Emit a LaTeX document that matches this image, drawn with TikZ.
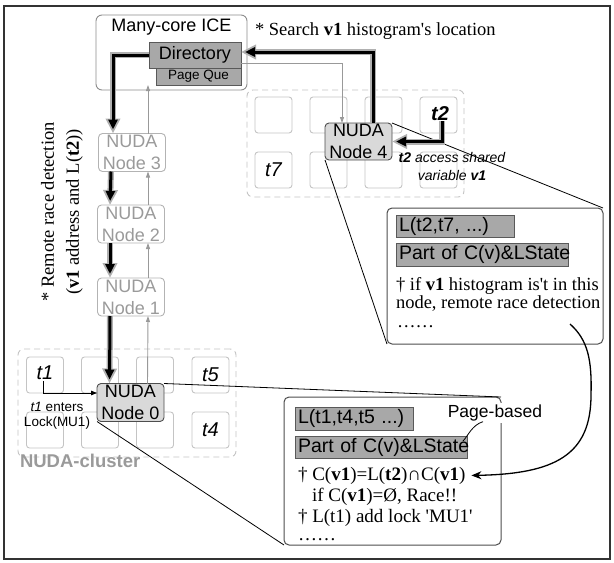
\documentclass[tikz,border=0pt]{standalone}
\usepackage{fontspec}
\newfontfamily\tnr{Liberation Serif}
\newfontfamily\arial{Liberation Sans}
\usetikzlibrary{arrows.meta,calc}

\definecolor{framecol}{HTML}{333333}
\definecolor{iceline}{HTML}{8C8C8C}
\definecolor{dirfill}{HTML}{A8A8A8}
\definecolor{dirline}{HTML}{595959}
\definecolor{nodefill}{HTML}{D9D9D9}
\definecolor{nodeline}{HTML}{4D4D4D}
\definecolor{faintline}{HTML}{B3B3B3}
\definecolor{fainttext}{HTML}{9A9A9A}
\definecolor{cellline}{HTML}{C4C4C4}
\definecolor{halogray}{HTML}{B0B0B0}
\definecolor{thingray}{HTML}{999999}

\newcommand\mysf[2]{\arial\fontsize{#1}{#2}\selectfont}
\newcommand\myrm[2]{\tnr\fontsize{#1}{#2}\selectfont}

\begin{document}
\begin{tikzpicture}[x=1pt,y=-1pt,
  every node/.style={inner sep=0pt, outer sep=0pt},
  cluster/.style={draw=cellline, dashed, dash pattern=on 6pt off 4pt, rounded corners=6pt, line width=0.9pt},
  cell/.style={draw=cellline, rounded corners=3pt, minimum width=37pt, minimum height=36pt, line width=0.9pt},
  celltext/.style={font=\mysf{20}{22}\itshape},
  nuda/.style={draw=nodeline, fill=nodefill, rounded corners=4pt, minimum width=67pt, minimum height=38pt,
    align=center, font=\mysf{18}{22}, line width=0.9pt},
  faintnuda/.style={draw=faintline, fill=white, text=fainttext, rounded corners=4pt, minimum width=67pt,
    minimum height=38pt, align=center, font=\mysf{18}{22}, line width=0.9pt},
  graybox/.style={draw=dirline, fill=dirfill, line width=0.9pt},
  callout/.style={draw=nodeline, fill=white, rounded corners=5pt, line width=1pt},
  innerbox/.style={graybox, anchor=west, inner xsep=3pt, align=left, font=\mysf{19.5}{21}, minimum height=22pt},
  halo/.style={draw=halogray, line width=6pt, -{Triangle[length=15pt,width=14pt]}},
  core/.style={draw=black, line width=3pt, -{Triangle[length=10pt,width=9pt]}, shorten >=4pt},
  thinup/.style={draw=thingray, line width=0.9pt, -{Triangle[length=6pt,width=4pt]}},
  zoomline/.style={draw=black, line width=0.8pt},
  bodytext/.style={anchor=base west, font=\myrm{18.5}{20}},
]
\useasboundingbox (0,0) rectangle (614,563);

% outer frame
\draw[framecol, line width=2pt] (4,6) rectangle (610,559);

% clusters of cores
\node[cluster, minimum width=217pt, minimum height=107pt] (clusterR) at (355.5,143.5) {};
\node[cluster, minimum width=218pt, minimum height=108pt] (clusterL) at (127,403) {};
\foreach \cx [count=\i] in {273.5,328.5,383.5,438.5}
  \foreach \cy [count=\j] in {115,170}
    \node[cell] (r\i\j) at (\cx,\cy) {};
\foreach \cx [count=\i] in {45,100,155,210.5}
  \foreach \cy [count=\j] in {375,430}
    \node[cell] (l\i\j) at (\cx,\cy) {};

\node[celltext] (t7) at (r12) {t7};
\node[celltext, font=\mysf{20}{22}\itshape\bfseries] (t2) at (440,114) {t2};
\node[celltext] (t1) at (45,373) {t1};
\node[celltext] (t5) at (l41) {t5};
\node[celltext] (t4) at (l42) {t4};

\node[anchor=west, text=fainttext, font=\mysf{18.5}{20}\bfseries] (clusterlbl) at (20,461) {NUDA-cluster};

% many-core ICE
\node[draw=iceline, fill=white, rounded corners=6pt, line width=0.9pt, minimum width=151pt, minimum height=75pt] (ice) at (171.5,52.5) {};
\node[font=\mysf{18}{20}] (icelbl) at (171.5,27) {Many-core ICE};
\node[graybox, minimum width=85pt, minimum height=17pt, font=\mysf{13.5}{15}] (pq) at (198.5,76.5) {Page Que};
\node[graybox, minimum width=92pt, minimum height=26pt, font=\mysf{18}{20}] (dir) at (195,55) {Directory};

% NUDA nodes
\node[faintnuda] (n3) at (132,152.5) {NUDA\\Node 3};
\node[faintnuda] (n2) at (131,224) {NUDA\\Node 2};
\node[faintnuda] (n1) at (131,297) {NUDA\\Node 1};
\node[nuda] (n0) at (130.5,402.5) {NUDA\\Node 0};
\node[nuda, minimum height=37pt] (n4) at (358.5,141.5) {NUDA\\Node 4};

% annotations
\node[anchor=base west, font=\myrm{18.5}{20}] (search) at (255,35) {* Search \textbf{v1} histogram's location};
\node[rotate=90, align=center, font=\myrm{18.5}{25}] (remote) at (62,212)
  {* Remote race detection\\(\textbf{v1} address and L(\textbf{t2}))};
\node[align=center, font=\mysf{14}{18}\itshape] (t2note) at (452,166)
  {\textbf{t2} access shared\\variable \textbf{v1}};
\node[align=center, font=\mysf{13.5}{15}] (t1note) at (57,416) {\textit{t1} enters\\Lock(MU1)};

% thin gray return paths
\draw[thinup] ($(n0.north)+(17,0)$) -- ($(n1.south)+(17,0)$);
\draw[thinup] ($(n1.north)+(17,0)$) -- ($(n2.south)+(17,0)$);
\draw[thinup] ($(n2.north)+(17,0)$) -- ($(n3.south)+(16,0)$);
\draw[thinup] ($(n3.north)+(16,0)$) -- (pq.south -| 148,0);
\draw[thinup] ($(dir.east)+(0,8)$) -| ($(n4.north)+(-16.5,0)$);

% zoom lines to the callouts
\node[callout, minimum width=216pt, minimum height=136pt] (c1) at (495,276) {};
\node[callout, minimum width=217pt, minimum height=148pt] (c2) at (392.5,471) {};
\draw[zoomline] (n4.north east) -- (c1.north east);
\draw[zoomline] (n4.south west) -- (c1.south west);
\draw[zoomline] (n0.north east) -- (c2.north east);
\draw[zoomline] (n0.south west) -- (c2.south west);

% callout of node 4
\node[innerbox, text width=112pt] (lbox1) at (396,226) {L(t2,t7, ...)};
\node[innerbox, text width=166pt, minimum height=23pt] (pbox1) at (396,254.5) {\mbox{Part of C(v)\&LState}};
\node[bodytext] (c1l1) at (396,290) {\textdagger{} if \textbf{v1} histogram is't in this};
\node[bodytext] (c1l2) at (396,308.5) {node, remote race detection};
\node[bodytext] (c1l3) at (397,327) {……};

% callout of node 0
\node[innerbox, text width=112pt, minimum height=23pt] (lbox2) at (295,418.5) {L(t1,t4,t5 ...)};
\node[innerbox, text width=166pt] (pbox2) at (295,447) {\mbox{Part of C(v)\&LState}};
\node[bodytext, font=\myrm{19}{20}] (c2l1) at (298,480) {\textdagger{} C(\textbf{v1})=L(\textbf{t2})∩C(\textbf{v1})};
\node[bodytext, font=\myrm{19}{20}] (c2l2) at (312,501) {if C(\textbf{v1})=Ø, Race!!};
\node[bodytext, font=\myrm{19}{20}] (c2l3) at (298,522) {\textdagger{} L(t1) add lock 'MU1'};
\node[bodytext, font=\myrm{19}{20}] (c2l4) at (298,540) {……};
\node[fill=white, inner sep=1.5pt, font=\mysf{17.5}{19}] (pb) at (495,413) {Page-based};
\draw[zoomline] ($(pb.south)+(-12,-1)$) .. controls (472,425) and (468,436) .. ($(pbox2.north east)+(-4,5)$);

% remote race detection result
\coordinate (cstart) at (570,324);
\draw[black, line width=1.3pt, -{Stealth[length=10pt,width=8pt]}]
  (cstart) .. controls (588,340) and (592,360) .. (591,395)
  .. controls (591,455) and (555,474) .. ($(c2l1.east)+(6,0)$);

% main flow: node 4 -> directory -> node 3 -> ... -> node 0
\draw[halo] ($(n4.north)+(14.5,0)$) |- ($(dir.east)+(0,-3)$);
\draw[core] ($(n4.north)+(14.5,0)$) |- ($(dir.east)+(0,-3)$);
\draw[halo] (dir.west) -| ($(n3.north)+(-19,0)$);
\draw[core] (dir.west) -| ($(n3.north)+(-19,0)$);
\draw[halo] ($(n3.south)+(-21,0)$) -- ($(n2.north)+(-21,0)$);
\draw[core] ($(n3.south)+(-21,0)$) -- ($(n2.north)+(-21,0)$);
\draw[halo] ($(n2.south)+(-21,0)$) -- ($(n1.north)+(-21,0)$);
\draw[core] ($(n2.south)+(-21,0)$) -- ($(n1.north)+(-21,0)$);
\draw[halo] ($(n1.south)+(-21,0)$) -- ($(n0.north)+(-21,0)$);
\draw[core] ($(n1.south)+(-21,0)$) -- ($(n0.north)+(-21,0)$);

% t2 access
\draw[halo] ($(t2.south)+(2,0)$) |- (n4.east);
\draw[core] ($(t2.south)+(2,0)$) |- (n4.east);

% t1 enters the lock
\draw[black, line width=0.8pt, -{Triangle[length=6pt,width=4.5pt]}] ($(t1.south)+(-2,1)$) |- ($(n0.west)+(0,-9.5)$);
\end{tikzpicture}
\end{document}
